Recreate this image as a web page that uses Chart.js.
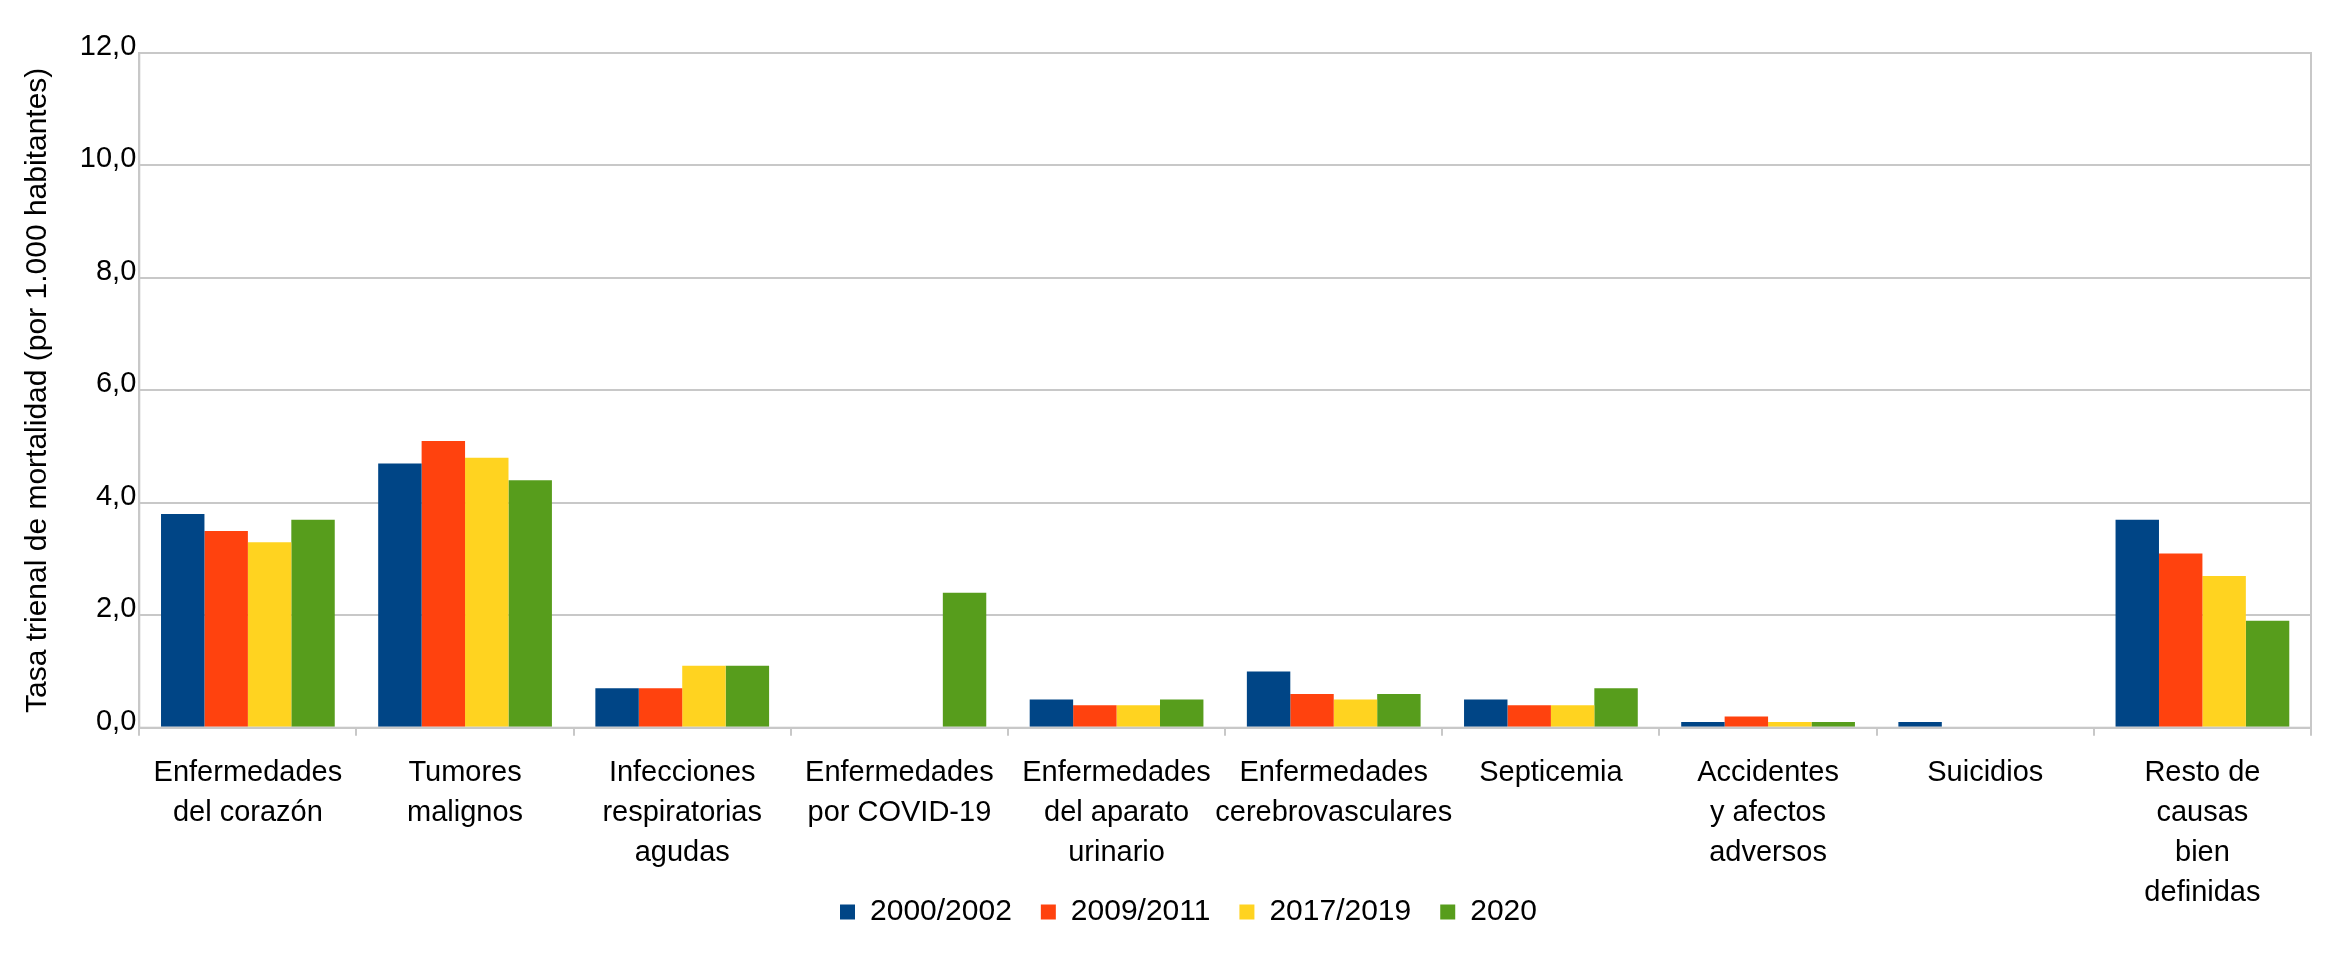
<!DOCTYPE html>
<html>
<head>
<meta charset="utf-8">
<script src="https://cdn.jsdelivr.net/npm/chart.js@4.4.1/dist/chart.umd.min.js"></script>
<style>
  html, body { margin: 0; padding: 0; background: #fff; }
  #wrap { width: 2350px; height: 954px; }
</style>
</head>
<body>
<div id="wrap"><canvas id="chart" width="2350" height="954"></canvas></div>
<script>
// --- datos ---
const categorias = [
    ['Enfermedades', 'del corazón'],
    ['Tumores', 'malignos'],
    ['Infecciones', 'respiratorias', 'agudas'],
    ['Enfermedades', 'por COVID-19'],
    ['Enfermedades', 'del aparato', 'urinario'],
    ['Enfermedades', 'cerebrovasculares'],
    ['Septicemia'],
    ['Accidentes', 'y afectos', 'adversos'],
    ['Suicidios'],
    ['Resto de', 'causas', 'bien', 'definidas']
];
const periodos = ['2000/2002', '2009/2011', '2017/2019', '2020'];
const tasa2000 = [3.8, 4.7, 0.7, null, 0.5, 1.0, 0.5, 0.1, 0.1, 3.7];
const tasa2009 = [3.5, 5.1, 0.7, null, 0.4, 0.6, 0.4, 0.2, null, 3.1];
const tasa2017 = [3.3, 4.8, 1.1, null, 0.4, 0.5, 0.4, 0.1, null, 2.7];
const tasa2020 = [3.7, 4.4, 1.1, 2.4, 0.5, 0.6, 0.7, 0.1, null, 1.9];
const yTicks = ['0,0', '2,0', '4,0', '6,0', '8,0', '10,0', '12,0'];
const colores = ['#004586', '#ff420e', '#ffd320', '#579d1c'];

const FONT = '"Liberation Sans", Arial, sans-serif';
const gridColor = '#c8c8c8';

// borde del área de trazado
const plotBorder = {
    id: 'plotBorder',
    afterDraw(chart) {
        const { ctx, chartArea: a } = chart;
        ctx.save();
        ctx.strokeStyle = gridColor;
        ctx.lineWidth = 2;
        ctx.strokeRect(a.left, a.top, a.right - a.left, a.bottom - a.top);
        ctx.restore();
    }
};

// la leyenda va debajo de las etiquetas, algo a la derecha del centro
const legendPlace = {
    id: 'legendPlace',
    afterLayout(chart) {
        const lg = chart.legend;
        lg.left += 33;
        lg.right += 33;
        lg.top = 868;
        lg.bottom = chart.height;
        lg.height = lg.bottom - lg.top;
    }
};

const series = [tasa2000, tasa2009, tasa2017, tasa2020];

new Chart(document.getElementById('chart'), {
    type: 'bar',
    data: {
        labels: categorias,
        datasets: series.map((d, i) => ({
            label: periodos[i],
            data: d,
            backgroundColor: colores[i],
            borderWidth: 0,
            categoryPercentage: 0.8,
            barPercentage: 1.0
        }))
    },
    options: {
        responsive: false,
        animation: false,
        devicePixelRatio: 1,
        layout: { padding: { left: 0, right: 39, top: 53, bottom: 0 } },
        plugins: {
            legend: {
                position: 'bottom',
                maxHeight: 40,
                labels: {
                    color: '#000',
                    font: { family: FONT, size: 30 },
                    boxWidth: 15,
                    boxHeight: 15,
                    padding: 29
                }
            },
            tooltip: { enabled: false }
        },
        scales: {
            x: {
                grid: { drawOnChartArea: false, color: gridColor, lineWidth: 2, tickLength: 8 },
                border: { color: gridColor, width: 2 },
                ticks: {
                    color: '#000',
                    font: { family: FONT, size: 29, lineHeight: 1.38 },
                    maxRotation: 0,
                    autoSkip: false,
                    padding: 17
                },
                afterFit(scale) {
                    scale.height = 186.3;
                    scale.paddingLeft = 0;
                    scale.paddingRight = 0;
                }
            },
            y: {
                min: 0,
                max: 12,
                grid: { color: gridColor, lineWidth: 2, drawTicks: false },
                border: { color: gridColor, width: 2 },
                ticks: {
                    stepSize: 2,
                    color: '#000',
                    font: { family: FONT, size: 29 },
                    padding: 3,
                    labelOffset: -6,
                    callback: (v, i) => yTicks[i]
                },
                title: {
                    display: true,
                    text: 'Tasa trienal de mortalidad (por 1.000 habitantes)',
                    color: '#000',
                    font: { family: FONT, size: 30 },
                    padding: { top: 19.5, bottom: 0 }
                },
                afterFit(scale) {
                    scale.width = 139.3;
                    scale.paddingTop = 0;
                    scale.paddingBottom = 0;
                }
            }
        }
    },
    plugins: [plotBorder, legendPlace]
});
</script>
</body>
</html>
